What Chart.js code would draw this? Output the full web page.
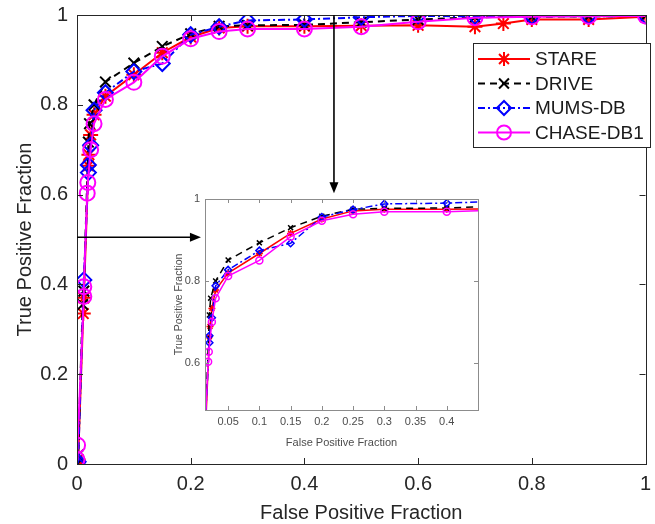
<!DOCTYPE html>
<html>
<head>
<meta charset="utf-8">
<script src="https://cdn.jsdelivr.net/npm/chart.js@4.4.0/dist/chart.umd.min.js"></script>
<style>
  html, body { margin: 0; padding: 0; background: #fff; }
  #wrap { position: relative; width: 655px; height: 524px; }
  #mainChart { position: absolute; left: 0; top: 0; }
  #insetChart { position: absolute; left: 150px; top: 180px; }
</style>
</head>
<body>
<div id="wrap">
  <canvas id="mainChart" width="655" height="524"></canvas>
  <canvas id="insetChart" width="335" height="270"></canvas>
</div>
<script>
// ROC curves: main plot plus a zoomed inset

const seriesNames = ['STARE', 'DRIVE', 'MUMS-DB', 'CHASE-DB1'];

const fprStare = [0, 0.002, 0.011, 0.012, 0.02, 0.021, 0.024, 0.03, 0.05, 0.1, 0.15, 0.2, 0.25, 0.3, 0.4, 0.5, 0.6, 0.7, 0.75, 0.8, 0.9, 1];
const tprStare = [0, 0.01, 0.335, 0.37, 0.664, 0.689, 0.733, 0.778, 0.819, 0.867, 0.916, 0.951, 0.971, 0.975, 0.975, 0.976, 0.977, 0.974, 0.981, 0.99, 0.99, 0.996];

const fprDrive = [0, 0.002, 0.01, 0.012, 0.02, 0.022, 0.03, 0.05, 0.1, 0.15, 0.2, 0.25, 0.3, 0.4, 0.5, 0.6, 0.7, 0.8, 0.9, 1];
const tprDrive = [0, 0.02, 0.355, 0.385, 0.717, 0.758, 0.8, 0.851, 0.893, 0.93, 0.958, 0.975, 0.977, 0.978, 0.984, 0.99, 0.995, 0.996, 0.997, 0.998];

const fprMums = [0, 0.002, 0.012, 0.02, 0.02, 0.024, 0.03, 0.05, 0.1, 0.15, 0.2, 0.25, 0.3, 0.4, 0.5, 0.6, 0.7, 0.8, 0.9, 1];
const tprMums = [0, 0.005, 0.41, 0.649, 0.666, 0.71, 0.788, 0.827, 0.874, 0.892, 0.956, 0.974, 0.988, 0.99, 0.995, 0.998, 0.997, 0.997, 0.997, 0.998];

const fprChase = [0, 0.001, 0.012, 0.012, 0.018, 0.019, 0.024, 0.03, 0.05, 0.1, 0.15, 0.2, 0.25, 0.3, 0.4, 0.5, 0.6, 0.7, 0.8, 0.9, 1];
const tprChase = [0.01, 0.042, 0.373, 0.395, 0.603, 0.627, 0.7, 0.758, 0.812, 0.85, 0.908, 0.947, 0.963, 0.969, 0.969, 0.974, 0.985, 0.994, 0.996, 0.997, 0.998];

const mainTicks = [0, 0.2, 0.4, 0.6, 0.8, 1];
const insetXTicks = [0.05, 0.1, 0.15, 0.2, 0.25, 0.3, 0.35, 0.4];
const insetYTicks = [0.6, 0.8, 1];

const fprAll = [fprStare, fprDrive, fprMums, fprChase];
const tprAll = [tprStare, tprDrive, tprMums, tprChase];

const styles = [
  { color: '#ff0000', dash: [], point: 'star' },
  { color: '#000000', dash: [7, 5], point: 'crossRot' },
  { color: '#0000ff', dash: [7, 3, 2, 3], point: 'rectRot' },
  { color: '#ff00ff', dash: [], point: 'circle' }
];

function makeDatasets(radius, lineWidth) {
  return seriesNames.map((name, i) => ({
    label: name,
    data: fprAll[i].map((x, j) => ({ x: x, y: tprAll[i][j] })),
    showLine: true,
    borderColor: styles[i].color,
    backgroundColor: 'rgba(0,0,0,0)',
    borderWidth: lineWidth,
    borderDash: styles[i].dash,
    pointStyle: styles[i].point,
    pointRadius: radius,
    pointBorderWidth: lineWidth,
    pointBorderColor: styles[i].color,
    pointBackgroundColor: 'rgba(0,0,0,0)',
    order: 3 - i
  }));
}

function fixTicks(values) {
  return scale => { scale.ticks = values.map(v => ({ value: v })); };
}
const fmt = v => String(+(+v).toFixed(2));

// box around the plot area with inward ticks on all four sides
const boxTicks = {
  id: 'boxTicks',
  afterDatasetsDraw(chart, args, opts) {
    const { ctx, chartArea: a, scales: { x, y } } = chart;
    ctx.save();
    ctx.strokeStyle = opts.color;
    ctx.lineWidth = opts.width;
    ctx.setLineDash([]);
    ctx.beginPath();
    x.ticks.forEach(t => {
      const px = Math.round(x.getPixelForValue(t.value)) + 0.5;
      ctx.moveTo(px, a.bottom); ctx.lineTo(px, a.bottom - opts.len);
      ctx.moveTo(px, a.top); ctx.lineTo(px, a.top + opts.len);
    });
    y.ticks.forEach(t => {
      const py = Math.round(y.getPixelForValue(t.value)) + 0.5;
      ctx.moveTo(a.left, py); ctx.lineTo(a.left + opts.len, py);
      ctx.moveTo(a.right, py); ctx.lineTo(a.right - opts.len, py);
    });
    ctx.stroke();
    ctx.strokeRect(Math.round(a.left) + 0.5, Math.round(a.top) + 0.5, Math.round(a.width), Math.round(a.height));
    ctx.restore();
  }
};

// arrows pointing at the inset + the legend box
const extras = {
  id: 'extras',
  afterDraw(chart) {
    const { ctx, scales: { x, y } } = chart;
    ctx.save();
    ctx.strokeStyle = '#000';
    ctx.fillStyle = '#000';
    ctx.lineWidth = 1.6;
    ctx.setLineDash([]);
    // horizontal arrow
    const hy = y.getPixelForValue(0.505), hx0 = x.getPixelForValue(0), hx1 = x.getPixelForValue(0.218);
    ctx.beginPath(); ctx.moveTo(hx0, hy); ctx.lineTo(hx1 - 8, hy); ctx.stroke();
    ctx.beginPath(); ctx.moveTo(hx1, hy); ctx.lineTo(hx1 - 11, hy - 4.5); ctx.lineTo(hx1 - 11, hy + 4.5); ctx.closePath(); ctx.fill();
    // vertical arrow
    const vx = x.getPixelForValue(0.452), vy0 = y.getPixelForValue(1), vy1 = y.getPixelForValue(0.603);
    ctx.beginPath(); ctx.moveTo(vx, vy0); ctx.lineTo(vx, vy1 - 8); ctx.stroke();
    ctx.beginPath(); ctx.moveTo(vx, vy1); ctx.lineTo(vx - 4.5, vy1 - 11); ctx.lineTo(vx + 4.5, vy1 - 11); ctx.closePath(); ctx.fill();

    // legend
    const bx = 473, by = 43, bw = 177, bh = 104;
    ctx.fillStyle = '#fff';
    ctx.fillRect(bx, by, bw, bh);
    ctx.strokeStyle = '#262626';
    ctx.lineWidth = 1;
    ctx.strokeRect(bx + 0.5, by + 0.5, bw, bh);
    ctx.font = '19px "Liberation Sans", Arial, sans-serif';
    ctx.textBaseline = 'middle';
    seriesNames.forEach((name, i) => {
      const ry = by + 16 + i * 24.5;
      ctx.strokeStyle = styles[i].color;
      ctx.lineWidth = 2;
      ctx.setLineDash(styles[i].dash);
      ctx.beginPath(); ctx.moveTo(bx + 5, ry); ctx.lineTo(bx + 57, ry); ctx.stroke();
      ctx.setLineDash([]);
      ctx.fillStyle = 'rgba(0,0,0,0)';
      Chart.helpers.drawPoint(ctx, { pointStyle: styles[i].point, radius: 7, rotation: 0, borderWidth: 2 }, bx + 31, ry);
      ctx.fillStyle = '#1a1a1a';
      ctx.fillText(name, bx + 62, ry + 1);
    });
    ctx.restore();
  }
};

const mainFont = { family: '"Liberation Sans", Arial, sans-serif', size: 20 };
const insetFont = { family: '"Liberation Sans", Arial, sans-serif', size: 11 };

function fitX(h) {
  return s => { s.height = h; s.paddingLeft = 0; s.paddingRight = 0; };
}
function fitY(w) {
  return s => { s.width = w; s.paddingTop = 0; s.paddingBottom = 0; };
}

new Chart(document.getElementById('mainChart'), {
  type: 'scatter',
  data: { datasets: makeDatasets(7.5, 2) },
  options: {
    responsive: false,
    animation: false,
    layout: { padding: { left: 0, right: 4, top: 15, bottom: 0 } },
    scales: {
      x: {
        min: 0, max: 1,
        afterBuildTicks: fixTicks(mainTicks),
        afterFit: fitX(60),
        grid: { display: false, drawTicks: false, tickLength: 0 },
        border: { display: false },
        ticks: { font: mainFont, color: '#262626', padding: 8, maxRotation: 0, autoSkip: false, callback: fmt },
        title: { display: true, text: 'False Positive Fraction', font: mainFont, color: '#262626', padding: { top: 0, bottom: -1 } }
      },
      y: {
        min: 0, max: 1,
        afterBuildTicks: fixTicks(mainTicks),
        afterFit: fitY(77),
        grid: { display: false, drawTicks: false, tickLength: 0 },
        border: { display: false },
        ticks: { font: mainFont, color: '#262626', padding: 9, autoSkip: false, callback: fmt },
        title: { display: true, text: 'True Positive Fraction', font: mainFont, color: '#262626', padding: { top: 13, bottom: 0 } }
      }
    },
    plugins: {
      legend: { display: false },
      tooltip: { enabled: false },
      boxTicks: { color: '#262626', width: 1, len: 6 }
    }
  },
  plugins: [boxTicks, extras]
});

new Chart(document.getElementById('insetChart'), {
  type: 'scatter',
  data: { datasets: makeDatasets(3.5, 1.5) },
  options: {
    responsive: false,
    animation: false,
    layout: { padding: { left: 0, right: 7, top: 19, bottom: 0 } },
    scales: {
      x: {
        min: 0.013, max: 0.45,
        afterBuildTicks: fixTicks(insetXTicks),
        afterFit: fitX(40),
        grid: { display: false, drawTicks: false, tickLength: 0 },
        border: { display: false },
        ticks: { font: insetFont, color: '#4d4d4d', padding: 5, maxRotation: 0, autoSkip: false, callback: fmt },
        title: { display: true, text: 'False Positive Fraction', font: insetFont, color: '#4d4d4d', padding: { top: 0, bottom: 0 } }
      },
      y: {
        min: 0.485, max: 1,
        afterBuildTicks: fixTicks(insetYTicks),
        afterFit: fitY(55),
        grid: { display: false, drawTicks: false, tickLength: 0 },
        border: { display: false },
        ticks: { font: insetFont, color: '#4d4d4d', padding: 5, autoSkip: false, callback: fmt },
        title: { display: true, text: 'True Positive Fraction', font: { family: insetFont.family, size: 10.5 }, color: '#4d4d4d', padding: { top: 23, bottom: 0 } }
      }
    },
    plugins: {
      legend: { display: false },
      tooltip: { enabled: false },
      boxTicks: { color: '#8c8c8c', width: 1, len: 4 }
    }
  },
  plugins: [boxTicks]
});
</script>
</body>
</html>
